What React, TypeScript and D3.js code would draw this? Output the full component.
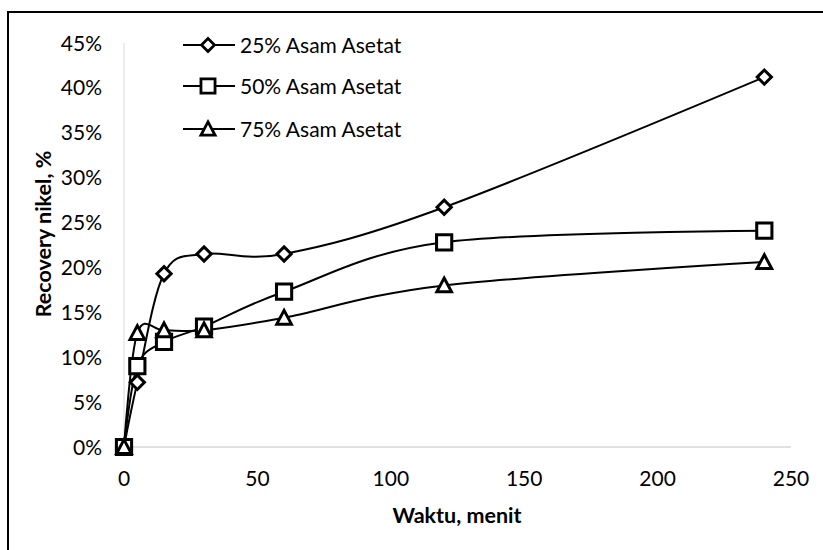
import React, { useEffect, useRef } from 'react';
import * as d3 from 'd3';

// waktu (menit)
const times = [0, 5, 15, 30, 60, 120, 240];
// recovery nikel (%)
const asam25 = [0, 7.2, 19.3, 21.5, 21.5, 26.7, 41.2];
const asam50 = [0, 9.0, 11.7, 13.4, 17.3, 22.8, 24.1];
const asam75 = [0, 12.7, 13.0, 13.0, 14.4, 18.0, 20.6];

const seriesNames = ['25% Asam Asetat', '50% Asam Asetat', '75% Asam Asetat'];
const markers = ['diamond', 'square', 'triangle'];
const xTicks = [0, 50, 100, 150, 200, 250];
const yTicks = [0, 5, 10, 15, 20, 25, 30, 35, 40, 45];

const FONT = 'Lato, "Open Sans", sans-serif';
const FS = 21;

const App: React.FC = () => {
  const svgRef = useRef<SVGSVGElement>(null);

  useEffect(() => {
    if (!svgRef.current) return;
    const svg = d3.select(svgRef.current);
    svg.selectAll('*').remove();

    const width = 823;
    const height = 550;

    // frame
    svg.append('rect')
      .attr('x', 8).attr('y', 12)
      .attr('width', width).attr('height', height)
      .attr('fill', 'white')
      .attr('stroke', '#000')
      .attr('stroke-width', 2);

    const x = d3.scaleLinear().domain([0, 250]).range([124, 791]);
    const y = d3.scaleLinear().domain([0, 45]).range([447, 43]);

    // axes lines
    svg.append('line')
      .attr('x1', x(0)).attr('x2', x(0))
      .attr('y1', y(45)).attr('y2', y(0))
      .attr('stroke', '#d9d9d9').attr('stroke-width', 1);
    svg.append('line')
      .attr('x1', x(0)).attr('x2', x(250))
      .attr('y1', y(0)).attr('y2', y(0))
      .attr('stroke', '#d9d9d9').attr('stroke-width', 1.5);

    // tick labels
    svg.append('g')
      .selectAll('text')
      .data(yTicks)
      .join('text')
      .attr('x', 102)
      .attr('y', d => y(d))
      .attr('dy', '0.36em')
      .attr('text-anchor', 'end')
      .attr('font-family', FONT)
      .attr('font-size', FS)
      .attr('fill', '#000')
      .text(d => `${d}%`);

    svg.append('g')
      .selectAll('text')
      .data(xTicks)
      .join('text')
      .attr('x', d => x(d))
      .attr('y', 486)
      .attr('text-anchor', 'middle')
      .attr('font-family', FONT)
      .attr('font-size', FS)
      .attr('fill', '#000')
      .text(d => d);

    // axis titles
    svg.append('text')
      .attr('x', 457).attr('y', 523)
      .attr('text-anchor', 'middle')
      .attr('font-family', FONT)
      .attr('font-size', 21.5)
      .attr('font-weight', 'bold')
      .text('Waktu, menit');

    svg.append('text')
      .attr('transform', `translate(51,234) rotate(-90)`)
      .attr('text-anchor', 'middle')
      .attr('font-family', FONT)
      .attr('font-size', 21.5)
      .attr('font-weight', 'bold')
      .text('Recovery nikel, %');

    const markerPath = (kind: string) => {
      if (kind === 'diamond') return d3.symbol(d3.symbolDiamond2, 150)();
      if (kind === 'square') return 'M-8,-8H8V8H-8Z';
      return 'M0,-8L8,7H-8Z';
    };

    const line = d3.line<[number, number]>()
      .x(d => x(d[0]))
      .y(d => y(d[1]))
      .curve(d3.curveCardinal.tension(0));

    const allSeries = [asam25, asam50, asam75];

    allSeries.forEach(vals => {
      const pts: [number, number][] = times.map((t, j) => [t, vals[j]]);
      svg.append('path')
        .datum(pts)
        .attr('fill', 'none')
        .attr('stroke', '#000')
        .attr('stroke-width', 2)
        .attr('d', line);
    });

    allSeries.forEach((vals, i) => {
      const pts: [number, number][] = times.map((t, j) => [t, vals[j]]);
      const sz = i === 0 ? 0.93 : i === 1 ? 0.95 : 0.92;
      svg.append('g')
        .selectAll('path')
        .data(pts)
        .join('path')
        .attr('transform', d => `translate(${x(d[0])},${y(d[1])}) scale(${sz})`)
        .attr('d', markerPath(markers[i]))
        .attr('fill', 'white')
        .attr('stroke', '#000')
        .attr('stroke-width', 3.2)
        .attr('stroke-linejoin', 'miter');
    });

    // legend
    const legendY = [45, 86, 129];
    seriesNames.forEach((name, i) => {
      const g = svg.append('g');
      g.append('line')
        .attr('x1', 183).attr('x2', 235)
        .attr('y1', legendY[i]).attr('y2', legendY[i])
        .attr('stroke', '#000').attr('stroke-width', 2);
      const sz = i === 0 ? 0.85 : 0.88;
      g.append('path')
        .attr('transform', `translate(208,${legendY[i]}) scale(${sz})`)
        .attr('d', markerPath(markers[i]))
        .attr('fill', 'white')
        .attr('stroke', '#000')
        .attr('stroke-width', 3.2);
      g.append('text')
        .attr('x', 240)
        .attr('y', legendY[i])
        .attr('dy', '0.36em')
        .attr('font-family', FONT)
        .attr('font-size', FS)
        .text(name);
    });
  }, []);

  return (
    <svg
      ref={svgRef}
      width={823}
      height={550}
      style={{ position: 'absolute', left: 0, top: 0, background: 'white' }}
    />
  );
};

export default App;
